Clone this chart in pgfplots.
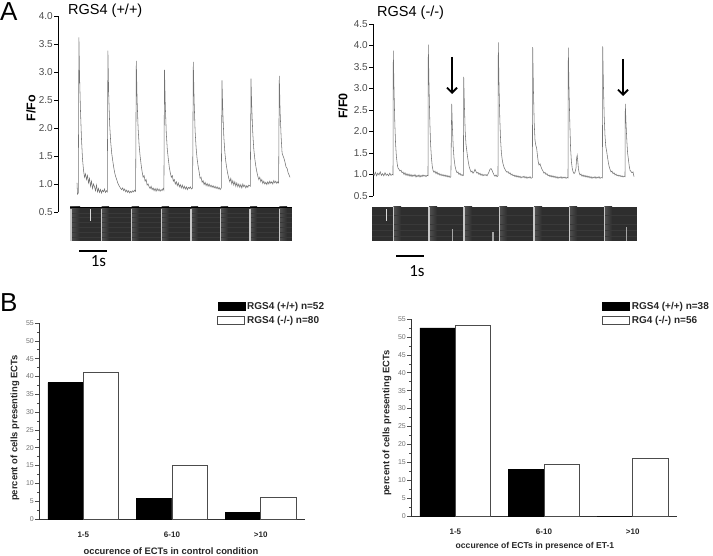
\documentclass[border=0pt]{standalone}
\usepackage{fontspec}
\setmainfont{Liberation Sans}
\newfontfamily\calib{Carlito}
\usepackage{pgfplots}
\pgfplotsset{compat=1.18}
\usetikzlibrary{arrows.meta}
\definecolor{tracegray}{gray}{0.45}
\definecolor{tickgray}{gray}{0.30}
\definecolor{btick}{gray}{0.45}
\definecolor{imgbg}{gray}{0.18}
\definecolor{imglt}{gray}{0.32}
\definecolor{streak}{gray}{0.225}
\definecolor{stripe}{gray}{0.78}
\pgfplotsset{legbox/.style={legend image code/.code={\draw[##1] (0pt,-4pt) rectangle (27pt,4pt);}}}
\begin{document}
\begin{tikzpicture}[x=1pt,y=1pt]

% ---------------- Panel A left trace
\begin{axis}[at={(58pt,343pt)}, anchor=south west, scale only axis, width=234pt, height=196pt,
  xmin=58, xmax=292, ymin=0.5, ymax=4.0,
  axis x line=none, axis y line*=left, axis line style={line width=0.9pt},
  ytick={0.5,1.0,1.5,2.0,2.5,3.0,3.5,4.0},
  /pgf/number format/fixed, /pgf/number format/fixed zerofill, /pgf/number format/precision=1,
  /pgf/number format/assume math mode=true,
  yticklabel style={font=\fontsize{10}{12}\selectfont, text=tickgray, inner sep=1pt},
  tick align=outside, major tick length=4pt, tick style={line width=0.8pt, black},
  clip=false]
\addplot[tracegray, line width=0.55pt] coordinates {
(77.0,1.02)(77.5,0.82)(78.3,0.84)(78.9,3.62)(79.6,2.9)(80.5,2.3)(81.5,1.8)(82.5,1.45)(83.5,1.25)(84.5,1.12)(85.5,1.18)(86.5,1.08)(87.5,1.15)(88.5,1.02)(89.5,1.10)(90.5,0.96)(91.5,1.05)(92.5,0.92)(93.5,1.00)(94.5,0.95)(95.5,0.88)(96.5,0.98)(97.5,0.86)(98.5,0.92)(99.5,0.85)(100.5,0.90)(101.5,0.84)(102.5,0.89)(103.5,0.86)(104.5,0.91)(105.5,0.85)(106.5,0.88)(107.3,0.86)
(107.9,3.38)(108.7,2.6)(109.7,2.05)(110.7,1.75)(111.7,1.55)(112.7,1.42)(113.7,1.3)(114.7,1.2)(115.7,1.13)(116.7,1.08)(117.7,1.02)(118.7,0.98)(119.7,0.95)(120.7,0.92)(121.7,0.90)(122.7,0.93)(123.7,0.88)(124.7,0.91)(125.7,0.86)(126.7,0.89)(127.7,0.85)(128.7,0.88)(129.7,0.84)(130.7,0.87)(131.7,0.85)(132.7,0.88)(133.7,0.86)(134.7,0.89)(135.6,0.87)
(136.3,3.20)(137.1,2.5)(138.1,2.0)(139.1,1.7)(140.1,1.5)(141.1,1.35)(142.1,1.22)(143.1,1.12)(144.1,1.15)(145.1,1.05)(146.1,1.08)(147.1,0.98)(148.1,1.0)(149.1,0.95)(150.1,0.92)(151.1,0.96)(152.1,0.9)(153.1,0.93)(154.1,0.88)(155.1,0.92)(156.1,0.87)(157.1,0.92)(158.1,0.88)(159.1,0.91)(160.1,0.87)(161.1,0.9)(162.1,0.88)(163.1,0.92)(163.9,0.89)
(164.5,3.04)(165.3,2.4)(166.3,1.9)(167.3,1.62)(168.3,1.45)(169.3,1.3)(170.3,1.2)(171.3,1.12)(172.3,1.15)(173.3,1.05)(174.3,1.08)(175.3,1.0)(176.3,1.04)(177.3,0.97)(178.3,1.02)(179.3,0.95)(180.3,0.99)(181.3,0.93)(182.3,0.98)(183.3,0.92)(184.3,0.96)(185.3,0.91)(186.3,0.95)(187.3,0.90)(188.3,0.94)(189.3,0.92)(190.3,0.95)(191.3,0.91)(192.6,0.93)
(193.3,3.18)(194.1,2.5)(195.1,1.95)(196.1,1.65)(197.1,1.45)(198.1,1.32)(199.1,1.22)(200.1,1.1)(201.1,1.12)(202.1,1.03)(203.1,1.06)(204.1,0.99)(205.1,1.03)(206.1,0.97)(207.1,1.01)(208.1,0.96)(209.1,1.0)(210.1,0.95)(211.1,0.98)(212.1,0.94)(213.1,0.97)(214.1,0.93)(215.1,0.96)(216.1,0.92)(217.1,0.95)(218.1,0.91)(219.1,0.94)(220.1,0.90)(221.3,0.93)
(222.0,2.85)(222.8,2.3)(223.8,1.85)(224.8,1.58)(225.8,1.4)(226.8,1.28)(227.8,1.18)(228.8,1.1)(229.8,1.04)(230.8,1.1)(231.8,1.0)(232.8,1.06)(233.8,0.98)(234.8,1.04)(235.8,0.96)(236.8,1.02)(237.8,0.95)(238.8,1.0)(239.8,0.94)(240.8,0.99)(241.8,0.93)(242.8,1.0)(243.8,0.95)(244.8,0.98)(245.8,0.93)(246.8,0.97)(247.8,0.94)(248.8,0.98)(250.3,0.96)
(251.0,2.88)(251.8,2.35)(252.8,1.9)(253.8,1.62)(254.8,1.45)(255.8,1.32)(256.8,1.22)(257.8,1.14)(258.8,1.08)(259.8,1.12)(260.8,1.04)(261.8,1.08)(262.8,1.01)(263.8,1.05)(264.8,1.0)(265.8,1.03)(266.8,0.99)(267.8,1.04)(268.8,1.0)(269.8,1.05)(270.8,1.01)(271.8,1.04)(272.8,1.0)(273.8,1.06)(274.8,1.02)(275.8,1.05)(276.8,1.01)(277.8,1.04)(278.6,1.02)
(279.3,2.93)(280.1,2.3)(281.1,1.85)(282.1,1.55)(283.1,1.5)(284.1,1.45)(285.1,1.38)(286.1,1.3)(287.1,1.28)(288.1,1.2)(289.1,1.16)(290.0,1.12)
};
\end{axis}

% ---------------- Panel A right trace
\begin{axis}[at={(373pt,359pt)}, anchor=south west, scale only axis, width=267pt, height=172pt,
  xmin=373, xmax=640, ymin=0.5, ymax=4.5,
  axis x line=none, axis y line*=left, axis line style={line width=0.9pt},
  ytick={0.5,1.0,1.5,2.0,2.5,3.0,3.5,4.0,4.5},
  /pgf/number format/fixed, /pgf/number format/fixed zerofill, /pgf/number format/precision=1,
  /pgf/number format/assume math mode=true,
  yticklabel style={font=\fontsize{10}{12}\selectfont, text=tickgray, inner sep=1pt},
  tick align=outside, major tick length=4pt, tick style={line width=0.8pt, black},
  clip=false]
\addplot[tracegray, line width=0.55pt] coordinates {
(373.0,1.02)(374.2,0.98)(375.4,1.05)(376.6,0.97)(377.8,1.03)(379.0,0.99)(380.2,1.06)(381.4,0.98)(382.6,1.02)(383.8,0.97)(385.0,1.04)(386.2,0.98)(387.4,1.01)(388.6,0.97)(389.8,1.03)(391.0,0.98)(392.2,1.0)(393.0,0.99)
(393.3,3.88)(394.0,3.0)(394.8,2.2)(395.6,1.7)(396.4,1.42)(397.2,1.25)(398.0,1.15)(399.0,1.12)(400.0,1.08)(401.0,1.1)(402.0,1.04)(403.0,1.06)(404.0,1.0)(405.0,1.04)(406.0,0.98)(407.0,1.02)(408.0,0.97)(409.0,1.01)(410.0,0.96)(411.0,1.0)(412.0,0.95)(413.0,0.99)(414.0,0.96)(415.0,1.0)(416.0,0.94)(417.0,0.98)(418.0,0.95)(419.0,0.99)(420.0,0.94)(421.0,0.98)(422.0,0.95)(423.0,0.99)(424.0,0.96)(425.0,0.98)(426.0,0.95)(427.0,0.98)(428.0,0.97)
(428.3,4.02)(429.0,3.1)(429.8,2.25)(430.6,1.7)(431.4,1.4)(432.2,1.2)(433.0,1.1)(434.0,1.05)(435.0,1.08)(436.0,1.02)(437.0,1.06)(438.0,1.0)(439.0,1.03)(440.0,0.98)(441.0,1.01)(442.0,0.97)(443.0,1.0)(444.0,0.96)(445.0,0.99)(446.0,0.95)(447.0,0.98)(448.0,0.94)(449.0,0.97)(450.0,0.93)(450.9,0.95)
(451.7,2.64)(452.4,2.1)(453.2,1.65)(454.0,1.38)(455.0,1.2)(456.0,1.1)(457.0,1.04)(458.0,1.06)(459.0,1.0)(460.0,1.03)(461.0,0.98)(462.0,1.0)(463.0,0.97)(463.4,0.98)
(463.7,3.27)(464.4,2.6)(465.2,2.0)(466.0,1.7)(466.8,1.55)(467.6,1.4)(468.4,1.28)(469.2,1.18)(470.0,1.12)(471.0,1.06)(472.0,1.08)(473.0,1.03)(474.0,1.06)(475.0,1.12)(476.0,1.07)(477.0,1.03)(478.0,1.05)(479.0,1.0)(480.0,1.03)(481.0,0.98)(482.0,1.01)(483.0,0.97)(484.0,1.0)(485.0,0.98)(486.0,1.0)(487.0,0.97)(488.0,1.01)(489.0,1.06)(490.0,1.12)(491.0,1.14)(492.0,1.1)(493.0,1.04)(494.0,0.99)(495.0,0.96)(496.0,0.99)(497.0,0.95)(498.0,0.97)
(498.3,4.07)(499.0,3.1)(499.8,2.3)(500.6,1.8)(501.4,1.5)(502.2,1.35)(503.0,1.25)(504.0,1.17)(505.0,1.12)(506.0,1.08)(507.0,1.05)(508.0,1.07)(509.0,1.02)(510.0,1.04)(511.0,0.99)(512.0,1.01)(513.0,0.97)(514.0,0.99)(515.0,0.95)(516.0,0.98)(517.0,0.94)(518.0,0.97)(519.0,0.93)(520.0,0.96)(521.0,0.92)(522.0,0.95)(523.0,0.93)(524.0,0.96)(525.0,0.92)(526.0,0.95)(527.0,0.91)(528.0,0.94)(529.0,0.92)(530.0,0.95)(531.0,0.91)(532.4,0.93)
(532.7,3.96)(533.4,3.0)(534.2,2.2)(535.0,1.8)(535.8,1.68)(536.6,1.62)(537.4,1.45)(538.2,1.3)(539.0,1.22)(540.0,1.25)(541.0,1.18)(542.0,1.12)(543.0,1.08)(544.0,1.03)(545.0,1.05)(546.0,1.0)(547.0,1.02)(548.0,0.97)(549.0,0.99)(550.0,0.95)(551.0,0.98)(552.0,0.94)(553.0,0.97)(554.0,0.93)(555.0,0.96)(556.0,0.92)(557.0,0.95)(558.0,0.91)(559.0,0.94)(560.0,0.92)(561.0,0.95)(562.0,0.91)(563.0,0.94)(564.0,0.92)(565.0,0.94)(566.0,0.91)(567.0,0.93)(568.0,0.92)
(568.3,3.95)(569.0,3.0)(569.8,2.2)(570.6,1.6)(571.4,1.3)(572.2,1.15)(573.0,1.07)(574.0,1.02)(575.0,1.05)(576.0,1.15)(576.6,1.38)(577.2,1.45)(577.8,1.3)(578.5,1.12)(579.3,1.03)(580.0,0.99)(581.0,1.01)(582.0,0.96)(583.0,0.99)(584.0,0.95)(585.0,0.98)(586.0,0.94)(587.0,0.97)(588.0,0.93)(589.0,0.96)(590.0,0.92)(591.0,0.95)(592.0,0.91)(593.0,0.94)(594.0,0.92)(595.0,0.95)(596.0,0.91)(597.0,0.94)(598.0,0.92)(599.0,0.95)(600.0,0.91)(601.0,0.93)(602.4,0.92)
(602.7,3.98)(603.4,3.1)(604.2,2.35)(605.0,1.9)(605.8,1.65)(606.6,1.55)(607.4,1.42)(608.2,1.3)(609.0,1.2)(610.0,1.12)(611.0,1.06)(612.0,1.08)(613.0,1.02)(614.0,1.04)(615.0,0.99)(616.0,1.01)(617.0,0.97)(618.0,0.99)(619.0,0.96)(620.0,0.98)(621.0,0.95)(622.0,0.97)(623.0,0.94)(624.0,0.96)(625.0,0.95)
(625.3,2.64)(626.0,2.2)(626.8,1.8)(627.6,1.5)(628.4,1.35)(629.2,1.2)(630.0,1.1)(631.0,1.07)(632.0,1.04)(633.0,1.06)(634.0,0.95)
};
\end{axis}

% ---------------- line-scan image left
\begin{axis}[at={(70pt,314pt)}, anchor=south west, scale only axis, width=222pt, height=34pt,
  xmin=70, xmax=292, ymin=0, ymax=1, hide axis, clip=true]
\addplot[fill=imgbg, draw=none] coordinates {(70,1) (292,1)} \closedcycle;
\addplot[draw=none, left color=imglt, right color=imgbg] coordinates {(70,1) (80,1)} \closedcycle;
\addplot[draw=none, left color=imglt, right color=imgbg] coordinates {(101.7,1) (109,1)} \closedcycle;
\addplot[draw=none, left color=imglt, right color=imgbg] coordinates {(131.7,1) (139,1)} \closedcycle;
\addplot[draw=none, left color=imglt, right color=imgbg] coordinates {(161.7,1) (169,1)} \closedcycle;
\addplot[draw=none, left color=imglt, right color=imgbg] coordinates {(191,1) (198,1)} \closedcycle;
\addplot[draw=none, left color=imglt, right color=imgbg] coordinates {(220.7,1) (228,1)} \closedcycle;
\addplot[draw=none, left color=imglt, right color=imgbg] coordinates {(250,1) (257,1)} \closedcycle;
\addplot[draw=none, left color=imglt, right color=imgbg] coordinates {(279.3,1) (287,1)} \closedcycle;
\addplot[streak, line width=0.5pt] coordinates {(70,0.12) (292,0.12)};
\addplot[streak, line width=0.5pt] coordinates {(70,0.27) (292,0.27)};
\addplot[streak, line width=0.4pt] coordinates {(70,0.40) (292,0.40)};
\addplot[streak, line width=0.4pt] coordinates {(70,0.55) (292,0.55)};
\addplot[streak, line width=0.4pt] coordinates {(70,0.70) (292,0.70)};
\addplot[streak, line width=0.4pt] coordinates {(70,0.83) (292,0.83)};
\addplot[black, line width=1.6pt] coordinates {(70,0.98) (292,0.98)};
\addplot[ycomb, stripe, line width=1.3pt] coordinates {(71,0.95) (101.7,0.95) (131.7,0.95) (161.7,0.95) (191,0.95) (220.7,0.95) (250,0.95) (279.3,0.95)};
\draw[white!85!black, line width=0.7pt] (axis cs:90,0.6) -- (axis cs:90,0.93);
\end{axis}

% ---------------- line-scan image right
\begin{axis}[at={(372pt,314pt)}, anchor=south west, scale only axis, width=265pt, height=34pt,
  xmin=372, xmax=637, ymin=0, ymax=1, hide axis, clip=true]
\addplot[fill=imgbg, draw=none] coordinates {(372,1) (637,1)} \closedcycle;
\addplot[draw=none, left color=imglt, right color=imgbg] coordinates {(393.3,1) (401,1)} \closedcycle;
\addplot[draw=none, left color=imglt, right color=imgbg] coordinates {(429,1) (437,1)} \closedcycle;
\addplot[draw=none, left color=imglt, right color=imgbg] coordinates {(464,1) (472,1)} \closedcycle;
\addplot[draw=none, left color=imglt, right color=imgbg] coordinates {(499.3,1) (507,1)} \closedcycle;
\addplot[draw=none, left color=imglt, right color=imgbg] coordinates {(534,1) (542,1)} \closedcycle;
\addplot[draw=none, left color=imglt, right color=imgbg] coordinates {(569.3,1) (577,1)} \closedcycle;
\addplot[draw=none, left color=imglt, right color=imgbg] coordinates {(604.3,1) (612,1)} \closedcycle;
\addplot[streak, line width=0.5pt] coordinates {(372,0.15) (637,0.15)};
\addplot[streak, line width=0.5pt] coordinates {(372,0.32) (637,0.32)};
\addplot[streak, line width=0.4pt] coordinates {(372,0.50) (637,0.50)};
\addplot[streak, line width=0.4pt] coordinates {(372,0.75) (637,0.75)};
\addplot[ycomb, stripe, line width=1.3pt] coordinates {(393.3,1) (429,1) (464,1) (499.3,1) (534,1) (569.3,1) (604.3,1)};
\addplot[ycomb, white!65!black, line width=1.3pt] coordinates {(452.7,0.35) (626.7,0.4) (493,0.25)};
\draw[white!85!black, line width=0.7pt] (axis cs:386.7,0.6) -- (axis cs:386.7,0.93);
\end{axis}

% ---------------- Panel B left
\begin{axis}[at={(39pt,36pt)}, anchor=south west, scale only axis, width=266pt, height=196pt,
  xmin=-0.5, xmax=2.5, ymin=0, ymax=55,
  axis x line*=bottom, axis y line*=left, axis line style={line width=0.6pt, black!80},
  xtick={0,1,2}, xticklabels={1-5,6-10,>10}, x tick style={draw=none},
  xticklabel style={font=\bfseries\fontsize{8}{10}\selectfont, text=black!85, yshift=-5pt},
  ytick={0,5,...,55}, minor y tick num=1, tick align=outside,
  major tick length=4pt, minor tick length=2pt, y tick style={black!70, line width=0.5pt},
  /pgf/number format/assume math mode=true,
  yticklabel style={font=\fontsize{7}{8}\selectfont, text=btick, inner sep=1pt},
  ylabel={percent of cells presenting ECTs},
  ylabel style={at={(axis description cs:-0.09,0.464)}, anchor=center, font=\bfseries\fontsize{9.4}{11}\selectfont, text=black!85},
  xlabel={occurence of ECTs in control condition},
  xlabel style={at={(axis description cs:0.496,-0.162)}, anchor=center, font=\bfseries\fontsize{9.4}{11}\selectfont, text=black!85},
  legend style={at={(axis description cs:0.67,1.117)}, anchor=north west, draw=none, fill=none,
     inner sep=0pt, row sep=1pt, font=\bfseries\fontsize{10}{12}\selectfont, text=black!85},
  legend cell align=left, clip=false]
\addplot[ybar, bar width=0.4, bar shift=-0.2, fill=black, draw=black, legbox]
  coordinates {(0,38.3) (1,5.7) (2,1.9)};
\addplot[ybar, bar width=0.4, bar shift=0.2, fill=white, draw=black!70, line width=0.7pt, legbox]
  coordinates {(0,41.2) (1,15.0) (2,6.2)};
\legend{RGS4 (+/+) n=52, RGS4 (-/-) n=80}
\end{axis}

% ---------------- Panel B right
\begin{axis}[at={(411pt,39pt)}, anchor=south west, scale only axis, width=266pt, height=197pt,
  xmin=-0.5, xmax=2.5, ymin=0, ymax=55,
  axis x line*=bottom, axis y line*=left, axis line style={line width=0.6pt, black!80},
  xtick={0,1,2}, xticklabels={1-5,6-10,>10}, x tick style={draw=none},
  xticklabel style={font=\bfseries\fontsize{8}{10}\selectfont, text=black!85, yshift=-5pt},
  ytick={0,5,...,55}, minor y tick num=1, tick align=outside,
  major tick length=4pt, minor tick length=2pt, y tick style={black!70, line width=0.5pt},
  /pgf/number format/assume math mode=true,
  yticklabel style={font=\fontsize{7}{8}\selectfont, text=btick, inner sep=1pt},
  ylabel={percent of cells presenting ECTs},
  ylabel style={at={(axis description cs:-0.09,0.472)}, anchor=center, font=\bfseries\fontsize{9.4}{11}\selectfont, text=black!85},
  xlabel={occurence of ECTs in presence of ET-1},
  xlabel style={at={(axis description cs:0.466,-0.152)}, anchor=center, font=\bfseries\fontsize{8.6}{10}\selectfont, text=black!85},
  legend style={at={(axis description cs:0.718,1.096)}, anchor=north west, draw=none, fill=none,
     inner sep=0pt, row sep=1pt, font=\bfseries\fontsize{10}{12}\selectfont, text=black!85},
  legend cell align=left, clip=false]
\addplot[ybar, bar width=0.4, bar shift=-0.2, fill=black, draw=black, legbox]
  coordinates {(0,52.5) (1,13.1) (2,0)};
\addplot[ybar, bar width=0.4, bar shift=0.2, fill=white, draw=black!70, line width=0.7pt, legbox]
  coordinates {(0,53.3) (1,14.4) (2,16.0)};
\legend{RGS4 (+/+) n=38, RG4 (-/-) n=56}
\end{axis}

% ---------------- annotations
\node[anchor=north west, inner sep=0pt] at (0,553) {\fontsize{26}{28}\selectfont A};
\node[anchor=north west, inner sep=0pt] at (0,262) {\fontsize{26}{28}\selectfont B};
\node[anchor=west, inner sep=0pt] at (68,544) {\fontsize{14.5}{16}\selectfont RGS4 (+/+)};
\node[anchor=west, inner sep=0pt] at (377,542) {\fontsize{14.5}{16}\selectfont RGS4 (-/-)};
\node[rotate=90, inner sep=0pt] at (31,447) {\bfseries\fontsize{12.5}{14}\selectfont F/Fo};
\node[rotate=90, inner sep=0pt] at (343,449) {\bfseries\fontsize{12.5}{14}\selectfont F/F0};
\draw[line width=1.8pt, -{Straight Barb[length=5pt, width=10pt]}] (452,498) -- (452,461);
\draw[line width=1.8pt, -{Straight Barb[length=5pt, width=10pt]}] (623,496) -- (623,459);
\draw[line width=1.3pt] (79,304) -- (107,304);
\node[inner sep=0pt] at (98.5,294) {\calib\fontsize{17}{18}\selectfont 1s};
\draw[line width=1.3pt] (396,299) -- (424,299);
\node[inner sep=0pt] at (417,284) {\calib\fontsize{17}{18}\selectfont 1s};
\pgfresetboundingbox
\path[use as bounding box] (0,0) rectangle (713,555);
\end{tikzpicture}
\end{document}
